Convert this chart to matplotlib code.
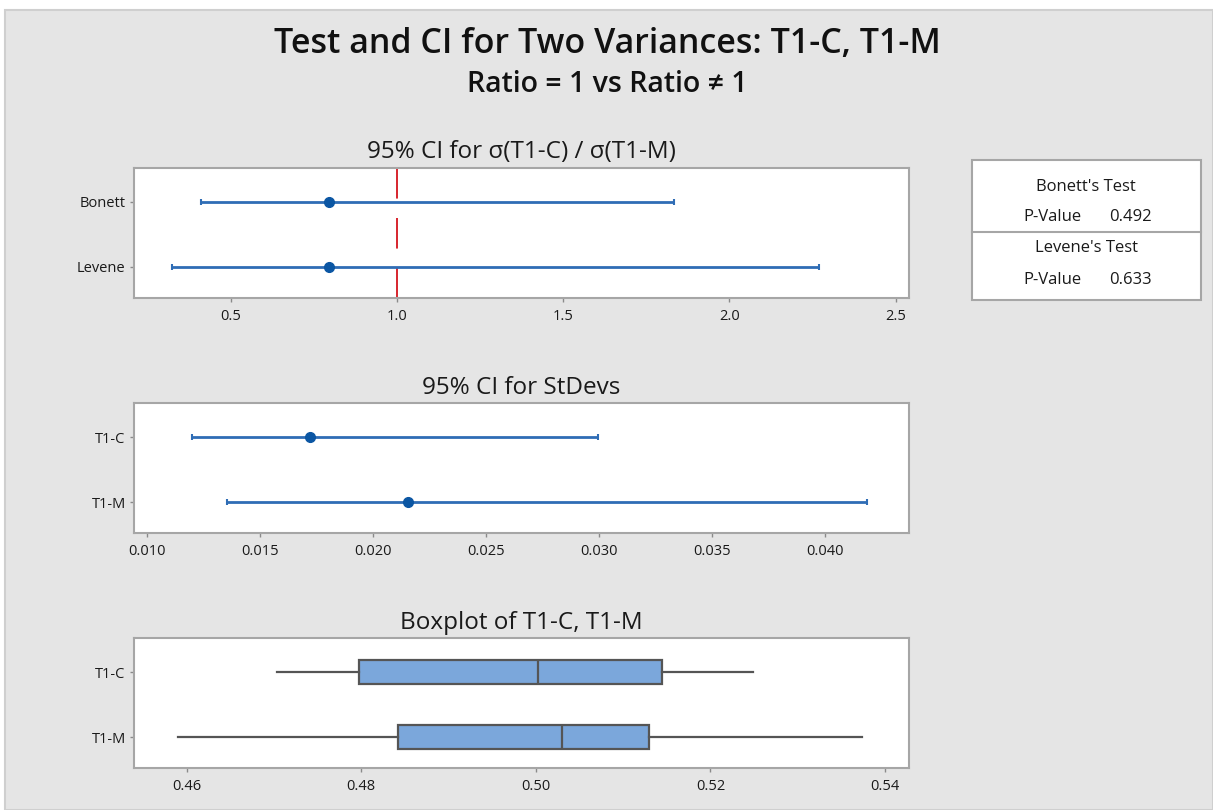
import matplotlib
matplotlib.use("Agg")
import matplotlib.pyplot as plt
from matplotlib.patches import Rectangle
from matplotlib.lines import Line2D

# ---------------- data ----------------
main_title = "Test and CI for Two Variances: T1-C, T1-M"
sub_title = "Ratio = 1 vs Ratio \u2260 1"
ratio_title = "95% CI for \u03c3(T1-C) / \u03c3(T1-M)"
stdev_title = "95% CI for StDevs"
box_title = "Boxplot of T1-C, T1-M"

ratio_methods = ["Bonett", "Levene"]
ratio_est = [0.796, 0.796]
ratio_lo = [0.410, 0.323]
ratio_hi = [1.833, 2.269]
ratio_null = 1.0
ratio_ticks = [0.5, 1.0, 1.5, 2.0, 2.5]
ratio_ticklabels = ["0.5", "1.0", "1.5", "2.0", "2.5"]

samples = ["T1-C", "T1-M"]
sd_est = [0.01723, 0.02156]
sd_lo = [0.01200, 0.01355]
sd_hi = [0.02996, 0.04186]
sd_ticks = [0.010, 0.015, 0.020, 0.025, 0.030, 0.035, 0.040]
sd_ticklabels = ["0.010", "0.015", "0.020", "0.025", "0.030", "0.035", "0.040"]

box_whislo = [0.4703, 0.4590]
box_q1 = [0.4797, 0.4842]
box_med = [0.5002, 0.5030]
box_q3 = [0.5145, 0.5130]
box_whishi = [0.5249, 0.5374]
box_ticks = [0.46, 0.48, 0.50, 0.52, 0.54]
box_ticklabels = ["0.46", "0.48", "0.50", "0.52", "0.54"]

test_names = ["Bonett's Test", "Levene's Test"]
p_values = [0.492, 0.633]

# ---------------- style ----------------
W, H = 1213, 810
FONT = ["Open Sans", "DejaVu Sans"]
plt.rcParams["font.family"] = FONT
plt.rcParams["lines.scale_dashes"] = False

BG = "#e5e5e5"
SPINE = "#a6a6a6"
TICKC = "#8a8a8a"
TXT = "#1a1a1a"
LINE_BLUE = "#2f6db5"
DOT_BLUE = "#0b56a3"
BOX_FILL = "#7ba7db"
BOX_EDGE = "#555555"
RED = "#d4141c"

fig = plt.figure(figsize=(W / 100, H / 100), dpi=100, facecolor="white")

# grey panel background
fig.patches.append(Rectangle((5 / W, 0), 1 - 5 / W, 1 - 10 / H, transform=fig.transFigure,
                             facecolor=BG, edgecolor="#cfcfcf", linewidth=1.5, zorder=-10))


def px_axes(left, top, right, bottom):
    return fig.add_axes([left / W, 1 - bottom / H, (right - left) / W, (bottom - top) / H])


def style_axes(ax):
    ax.set_facecolor("white")
    for s in ax.spines.values():
        s.set_color(SPINE)
        s.set_linewidth(1.5)
    ax.tick_params(axis="both", direction="out", length=3, width=1, color=TICKC,
                   labelcolor=TXT, labelsize=10.5)
    ax.tick_params(axis="x", pad=5)
    ax.tick_params(axis="y", pad=3)
    ax.set_ylim(1.48, -0.52)


def panel_title(ax, text):
    ax.set_title(text, fontsize=17.5, color=TXT, pad=7)


# ---------- panel 1: ratio CI ----------
ax1 = px_axes(134, 168, 908.7, 297.7)
style_axes(ax1)
y1 = list(range(len(ratio_methods)))
ax1.axvline(ratio_null, ymin=1, ymax=0, color=RED, linewidth=1.3, dashes=(22, 14), zorder=1)
ax1.errorbar(ratio_est, y1,
             xerr=[[e - l for e, l in zip(ratio_est, ratio_lo)],
                   [h - e for e, h in zip(ratio_est, ratio_hi)]],
             fmt="o", color=DOT_BLUE, markersize=7, ecolor=LINE_BLUE, elinewidth=2,
             capsize=2.3, capthick=1.5, zorder=3)
ax1.set_xlim(0.209, 2.539)
ax1.set_xticks(ratio_ticks)
ax1.set_xticklabels(ratio_ticklabels)
ax1.set_yticks(y1)
ax1.set_yticklabels(ratio_methods)
panel_title(ax1, ratio_title)

# ---------- panel 2: StDev CI ----------
ax2 = px_axes(134, 403.3, 908.7, 533.3)
style_axes(ax2)
y2 = list(range(len(samples)))
ax2.errorbar(sd_est, y2,
             xerr=[[e - l for e, l in zip(sd_est, sd_lo)],
                   [h - e for e, h in zip(sd_est, sd_hi)]],
             fmt="o", color=DOT_BLUE, markersize=7, ecolor=LINE_BLUE, elinewidth=2,
             capsize=2.3, capthick=1.5, zorder=3)
ax2.set_xlim(0.00944, 0.04372)
ax2.set_xticks(sd_ticks)
ax2.set_xticklabels(sd_ticklabels)
ax2.set_yticks(y2)
ax2.set_yticklabels(samples)
panel_title(ax2, stdev_title)

# ---------- panel 3: boxplot ----------
ax3 = px_axes(134, 638.3, 908.7, 768.3)
style_axes(ax3)
stats = []
for i, name in enumerate(samples):
    stats.append(dict(label=name, whislo=box_whislo[i], q1=box_q1[i], med=box_med[i],
                      q3=box_q3[i], whishi=box_whishi[i], fliers=[]))
ax3.bxp(stats, positions=y2, vert=False, widths=0.37, patch_artist=True,
        showcaps=False, showfliers=False,
        boxprops=dict(facecolor=BOX_FILL, edgecolor=BOX_EDGE, linewidth=1.6),
        medianprops=dict(color=BOX_EDGE, linewidth=1.6),
        whiskerprops=dict(color=BOX_EDGE, linewidth=1.6))
ax3.set_ylim(1.48, -0.52)
ax3.set_xlim(0.45396, 0.54271)
ax3.set_xticks(box_ticks)
ax3.set_xticklabels(box_ticklabels)
ax3.set_yticks(y2)
ax3.set_yticklabels(samples)
panel_title(ax3, box_title)

# ---------- titles ----------
fig.text(607 / W, 1 - 44 / H, main_title, ha="center", va="center", fontsize=24.5,
         fontweight="semibold", color="#111111")
fig.text(607 / W, 1 - 84 / H, sub_title, ha="center", va="center", fontsize=20.5,
         fontweight="semibold", color="#111111")

# ---------- stats box ----------
bx0, bx1, by0, by1, bmid = 971.7, 1200.7, 160, 300, 231.7
fig.patches.append(Rectangle((bx0 / W, 1 - by1 / H), (bx1 - bx0) / W, (by1 - by0) / H,
                             transform=fig.transFigure, facecolor="white",
                             edgecolor=SPINE, linewidth=1.5, zorder=1))
fig.lines.append(Line2D([bx0 / W, bx1 / W], [1 - bmid / H, 1 - bmid / H],
                        transform=fig.transFigure, color=SPINE, linewidth=1.5))
cx = (bx0 + bx1) / 2
rows = [(186.7, 216.7), (248.3, 280)]
for (yt, yp), name, p in zip(rows, test_names, p_values):
    fig.text(cx / W, 1 - yt / H, name, ha="center", va="center", fontsize=12, color=TXT)
    fig.text(1052 / W, 1 - yp / H, "P-Value", ha="center", va="center", fontsize=12, color=TXT)
    fig.text(1130 / W, 1 - yp / H, f"{p:.3f}", ha="center", va="center", fontsize=12, color=TXT)

fig.savefig("out.png", dpi=100, facecolor=fig.get_facecolor())
